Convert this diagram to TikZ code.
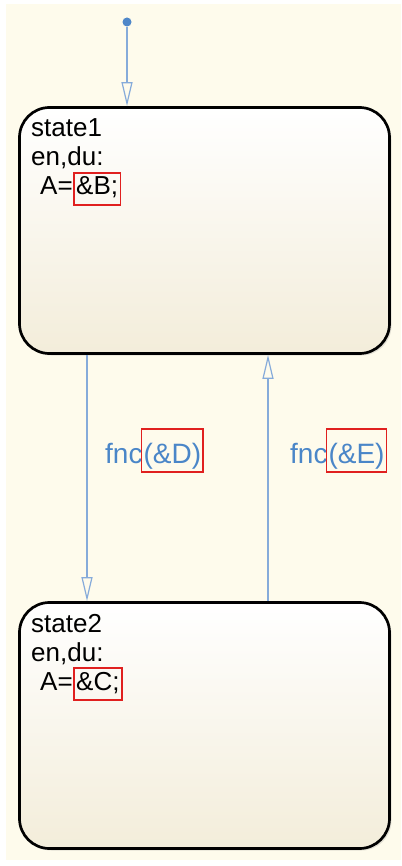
\documentclass[tikz,border=0pt]{standalone}
\usepackage{fontspec}
\setmainfont{Liberation Sans}
\usetikzlibrary{arrows.meta,shadows}
\definecolor{bgcream}{HTML}{FEFBEC}
\definecolor{stbottom}{HTML}{F3EDDA}
\definecolor{connblue}{HTML}{86ABDA}
\definecolor{lblblue}{HTML}{4A86C8}
\definecolor{dotblue}{HTML}{4F87C9}
\definecolor{boxred}{HTML}{E0201F}
\begin{document}
\begin{tikzpicture}[x=1pt,y=-1pt,
  statebox/.style={draw=black, line width=2.7pt, rounded corners=30pt,
    top color=white, bottom color=stbottom, minimum width=370pt,
    minimum height=246pt, inner sep=0pt,
    drop shadow={opacity=0.22, shadow xshift=2pt, shadow yshift=-2pt}},
  stxt/.style={inner sep=0pt, text=black, font=\fontsize{26}{29}\selectfont, anchor=base west},
  redbox/.style={draw=boxred, line width=1.6pt, inner xsep=2.5pt, inner ysep=2pt,
    text height=20pt, text depth=8pt, anchor=base west},
  lbl/.style={inner sep=0pt, text=lblblue, font=\fontsize{28}{30}\selectfont, anchor=base west},
  lblbox/.style={draw=boxred, line width=1.6pt, inner xsep=2pt, inner ysep=2pt,
    text height=32pt, text depth=7pt, text=lblblue, font=\fontsize{28}{30}\selectfont,
    anchor=base west, xshift=-2pt},
  conn/.style={draw=connblue, line width=1.2pt, -{Triangle[open,length=24pt,width=11pt]}}]
\useasboundingbox (0,0) rectangle (401,866);
\fill[white] (0,0) rectangle (401,866);
\fill[bgcream] (6,4) rectangle (401,860);

\node[statebox] (s1) at (204.5,230.5) {};
\node[statebox] (s2) at (204.5,725.5) {};

% state1 text
\node[stxt] (s1name) at (31,137) {state1};
\node[stxt] (s1act) at (31,166) {en,du:};
\node[stxt] (s1a) at (40,195) {A=};
\node[stxt, redbox] (s1box) at (s1a.base east) {\&B;};

% state2 text
\node[stxt] (s2name) at (31,632) {state2};
\node[stxt] (s2act) at (31,661) {en,du:};
\node[stxt] (s2a) at (40,690) {A=};
\node[stxt, redbox] (s2box) at (s2a.base east) {\&C;};

% initial transition
\node[circle, fill=dotblue, inner sep=0pt, minimum size=9pt] (init) at (127,22) {};
\draw[conn] (init) -- (init |- s1.north);

% transitions
\coordinate (t1) at (87,480);
\coordinate (t2) at (268,480);
\draw[conn] (t1 |- s1.south) -- (t1 |- s2.north);
\draw[conn] (t2 |- s2.north) -- (t2 |- s1.south);

% labels
\node[lbl] (l1) at (105,463) {fnc};
\node[lblbox] (l1b) at (l1.base east) {(\&D)};
\node[lbl] (l2) at (290,463) {fnc};
\node[lblbox] (l2b) at (l2.base east) {(\&E)};
\end{tikzpicture}
\end{document}
